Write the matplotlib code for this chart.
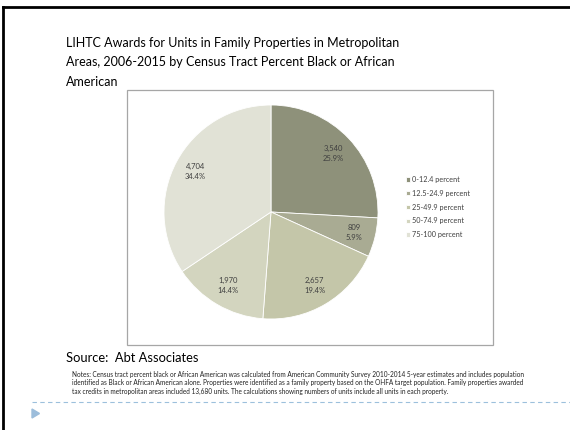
import matplotlib
matplotlib.use("Agg")
from matplotlib import pyplot as plt
from matplotlib.patches import Rectangle, Polygon
from matplotlib.lines import Line2D
import math

# data
categories = ["0-12.4 percent", "12.5-24.9 percent", "25-49.9 percent",
              "50-74.9 percent", "75-100 percent"]
units = [3540, 809, 2657, 1970, 4704]
shares = ["25.9%", "5.9%", "19.4%", "14.4%", "34.4%"]
colors = ["#8e917a", "#a9ab93", "#c4c6a9", "#d3d5bf", "#e1e2d6"]

title_lines = ["LIHTC Awards for Units in Family Properties in Metropolitan",
               "Areas, 2006-2015 by Census Tract Percent Black or African",
               "American"]
source = "Source:  Abt Associates"
notes = ["Notes: Census tract percent black or African American was calculated from American Community Survey 2010-2014 5-year estimates and includes population",
         "identified as Black or African American alone. Properties were identified as a family property based on the OHFA target population. Family properties awarded",
         "tax credits in metropolitan areas included 13,680 units. The calculations showing numbers of units include all units in each property."]

W, H = 570, 430
fig = plt.figure(figsize=(W / 100, H / 100), dpi=100)
plt.rcParams['font.family'] = ['Lato', 'DejaVu Sans']

def fx(x):
    return x / W

def fy(y):
    return 1 - y / H

# slide frame (top + left)
fig.add_artist(Line2D([fx(3), fx(570)], [fy(7), fy(7)], color="black", lw=2))
fig.add_artist(Line2D([fx(3), fx(3)], [fy(7), fy(430)], color="black", lw=2))

# chart box
fig.add_artist(Rectangle((fx(127), fy(345)), fx(493) - fx(127), fy(90) - fy(345),
                         fill=False, edgecolor="#a6a6a6", lw=0.9))

# pie
cx, cy, r = 271, 212, 107
ax = fig.add_axes([fx(cx - r), fy(cy + r), 2 * r / W, 2 * r / H])
wedges, _ = ax.pie(units, colors=colors, startangle=90, counterclock=False,
                   radius=1, wedgeprops=dict(edgecolor="white", linewidth=0.6))
ax.set_xlim(-1, 1)
ax.set_ylim(-1, 1)
ax.set_aspect("equal")
ax.axis("off")

total = sum(units)
ang = 90.0
for u, s in zip(units, shares):
    span = 360.0 * u / total
    mid = math.radians(ang - span / 2)
    ang -= span
    d = 0.8
    ax.text(d * math.cos(mid), d * math.sin(mid), "{:,}\n{}".format(u, s),
            ha="center", va="center", fontsize=5.5, color="#404040",
            linespacing=1.5)

leg = fig.legend(wedges, categories, loc="center left",
                 bbox_to_anchor=(fx(403), fy(207)), frameon=False,
                 fontsize=5.2, handlelength=0.6, handleheight=0.6,
                 handletextpad=0.3, labelspacing=0.95, borderaxespad=0)
for t in leg.get_texts():
    t.set_color("#404040")

# title
for i, line in enumerate(title_lines):
    fig.text(fx(66), fy(43 + 19.5 * i), line, fontsize=9.0, va="center",
             ha="left", color="black")

fig.text(fx(66), fy(358), source, fontsize=9.3, va="center", ha="left")
for i, line in enumerate(notes):
    fig.text(fx(72), fy(375 + 8 * i), line, fontsize=4.7, va="center",
             ha="left", color="#222222")

# dashed rule and bullet triangle
fig.add_artist(Line2D([fx(32), fx(570)], [fy(402), fy(402)], color="#9cc0dc",
                      lw=0.8, ls=(0, (4, 3))))
fig.add_artist(Polygon([[fx(32), fy(409)], [fx(32), fy(418)], [fx(39.5), fy(413.5)]],
                       closed=True, color="#9cbddb"))

plt.savefig("out.png", dpi=100)
